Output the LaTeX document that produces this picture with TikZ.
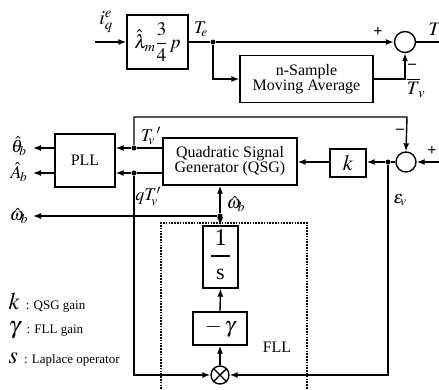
\documentclass[tikz,border=0pt]{standalone}
\usepackage{mathptmx}
\usepackage{fontspec}
\setmainfont{Liberation Serif}
\usetikzlibrary{arrows.meta}
\newcommand{\fs}[1]{\fontsize{#1}{#1}\selectfont}
\begin{document}
\begin{tikzpicture}[x=1pt,y=-1pt,
  every path/.style={line width=1.4pt},
  blk/.style={draw,line width=1.4pt,inner sep=0pt,align=center},
  arr/.style={-{Latex[length=8pt,width=6pt]}},
  dot/.style={circle,fill,inner sep=0pt,minimum size=5pt},
  sumc/.style={draw,circle,line width=1.4pt,inner sep=0pt},
  lbl/.style={inner sep=0pt},
  sgn/.style={inner sep=0pt,font=\fs{16}\bfseries}]
\useasboundingbox (0,0) rectangle (439,389);
% top row
\node[blk,minimum width=61pt,minimum height=54pt,font=\fs{19}] (gain) at (157.5,42) {$\displaystyle\hat{\lambda}_{m}\frac{3}{4}\,p$};
\coordinate (inp) at (95,42);
\node[lbl,font=\fs{20}] (iq) at (106,22) {$i_q^e$};
\draw[arr] (inp) -- (gain.west);
\node[dot] (te) at (213,42) {};
\node[lbl,font=\fs{18}] (telbl) at (201,29) {$T_{\!e}$};
\node[sumc,minimum size=21pt] (s1) at (405,42) {};
\draw (gain.east) -- (te);
\draw[arr] (te) -- (s1.west);
\node[sgn] (plus1) at (378,32) {+};
\coordinate (tout) at (439,42);
\draw (s1.east) -- (tout);
\node[lbl,anchor=west,font=\fs{19}] (tlbl) at (428,29) {$T$};
\node[blk,minimum width=133pt,minimum height=47pt,font=\fs{16}] (ma) at (306.5,79) {n-Sample\\[-1pt]Moving Average};
\draw[arr] (te) |- (ma.west);
\draw[arr] (ma.east) -| (s1.south);
\node[sgn] (minus1) at (412,66) {--};
\node[lbl,font=\fs{19}] (tvbar) at (416,88) {$\overline{T}_{\!v}$};
% middle row
\node[sumc,minimum size=20pt] (s2) at (406,162) {};
\node[dot] (e) at (388,162) {};
\node[blk,minimum width=36pt,minimum height=28pt,font=\fs{22}] (k) at (348,163) {$k$};
\node[blk,minimum width=134pt,minimum height=47pt,font=\fs{16}] (qsg) at (230,161.5) {Quadratic Signal\\[-1pt]Generator (QSG)};
\node[blk,minimum width=60pt,minimum height=53pt,font=\fs{16}] (pll) at (85,160.5) {PLL};
\coordinate (rin) at (439,162);
\draw[arr] (rin) -- (s2.east);
\node[sgn] (plus2) at (432,151) {+};
\node[sgn] (minus2) at (400,131) {--};
\draw (s2.west) -- (e);
\draw[arr] (e) -- (k.east |- e);
\draw[arr] (k.west |- e) -- (qsg.east |- e);
\node[dot] (d1) at (134,148) {};
\node[dot] (d2) at (134,173) {};
\draw (qsg.west |- d1) -- (d1);
\draw[arr] (d1) -- (pll.east |- d1);
\draw (qsg.west |- d2) -- (d2);
\draw[arr] (d2) -- (pll.east |- d2);
\coordinate (fbtop) at (134,117);
\coordinate (fbtr) at (407,117);
\draw[arr] (d1) -- (fbtop) -- (fbtr) -- (s2.north);
\node[lbl,font=\fs{18}] (tvp) at (151,136) {$T_{\!v}\,'$};
\node[lbl,font=\fs{18}] (qtv) at (148,196) {$qT_{\!v}'$};
\coordinate (th) at (33,148);
\coordinate (ah) at (33,173);
\draw[arr] (pll.west |- th) -- (th);
\draw[arr] (pll.west |- ah) -- (ah);
\node[lbl,font=\fs{18}] (thl) at (19,146) {$\hat{\theta}_{\!b}$};
\node[lbl,font=\fs{18}] (ahl) at (19,172) {$\hat{A}_{\!b}$};
\node[dot] (w) at (220,216) {};
\draw[arr] (w) -- (qsg.south -| w);
\node[lbl,font=\fs{18}] (wl) at (236,204) {$\hat{\omega}_{\!b}$};
\coordinate (wo) at (33,216);
\draw[arr] (w) -- (wo);
\node[lbl,font=\fs{18}] (wol) at (19,216) {$\hat{\omega}_{\!b}$};
\node[lbl,font=\fs{18}] (ev) at (400,200) {$\varepsilon_{\!v}$};
% FLL
\draw[line width=2.2pt,dash pattern=on 1.6pt off 1.2pt] (161,389) -- (161,223) -- (307,223) -- (307,389);
\node[blk,minimum width=35pt,minimum height=62pt] (integ) at (220.5,257) {};
\node[lbl,font=\fs{24}] (one) at (220.5,238) {1};
\draw (211,256) -- (230,256);
\node[lbl,font=\fs{22}] (ess) at (220.5,274) {s};
\node[blk,minimum width=54pt,minimum height=33pt,font=\fs{22}] (gam) at (220,328.5) {$-\,\gamma$};
\node[sumc,minimum size=18pt] (mul) at (220,375) {};
\draw (mul.north west) -- (mul.south east) (mul.north east) -- (mul.south west);
\draw[arr] (w) -- (integ.north);
\draw[arr] (gam.north) -- (integ.south);
\draw[arr] (mul.north) -- (gam.south);
\coordinate (ql) at (134,375);
\coordinate (er) at (388,375);
\draw[arr] (d2) -- (ql) -- (mul.west);
\draw[arr] (e) -- (er) -- (mul.east);
\node[lbl,font=\fs{16}] (fll) at (277,347) {FLL};
% legend
\node[lbl,anchor=west] (lk) at (8,303) {\fs{24}$k$\ \fs{13}: QSG gain};
\node[lbl,anchor=west] (lg) at (8,330) {\fs{24}$\gamma$\ \fs{13}: FLL gain};
\node[lbl,anchor=west] (ls) at (8,360) {\fs{24}$s$\ \fs{13}: Laplace operator};
\end{tikzpicture}
\end{document}
